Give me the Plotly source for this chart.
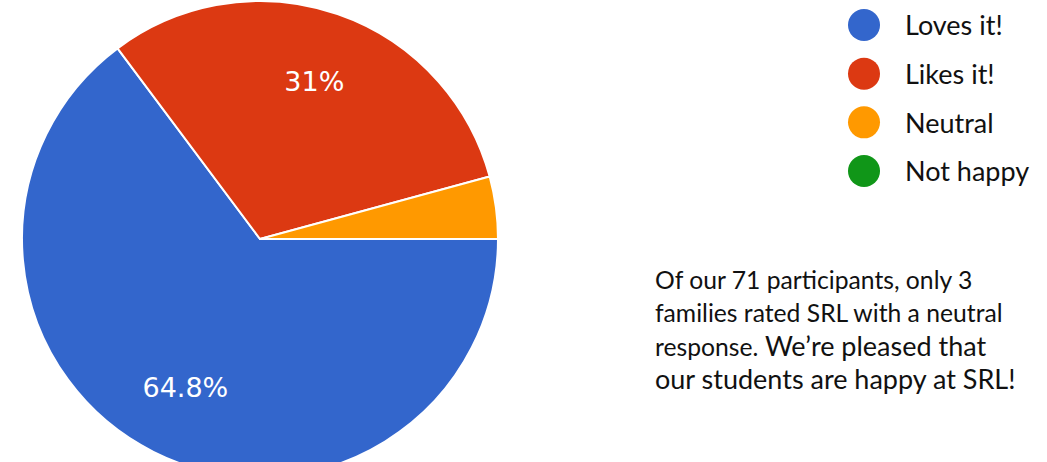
import plotly.graph_objects as go

categories = ["Loves it!", "Likes it!", "Neutral", "Not happy"]
counts = [46, 22, 3, 0]
colors = ["#3366CC", "#DC3912", "#FF9900", "#109618"]
note_lines = [
    ("Of our 71 participants, only 3", None),
    ("families rated SRL with a neutral", None),
    ("response.", " We\u2019re pleased that"),
    (None, "our students are happy at SRL!"),
]

total = sum(counts)
labels_txt = []
for v in counts:
    p = v / total * 100
    labels_txt.append(f"{p:.3g}%" if p >= 10 else "")

W = 1047
HF = 480          # figure height; the page window shows the top 462 px


def py(page_y):
    """page pixel y -> paper coordinate"""
    return 1 - page_y / HF


# pie centre (260, 239), radius 238
PIE_X = [22 / W, 498 / W]
PIE_Y = [py(477), py(1)]

fig = go.Figure()
pie_common = dict(
    labels=categories, values=counts, sort=False, direction="clockwise",
    rotation=90, showlegend=False, domain=dict(x=PIE_X, y=PIE_Y),
)
# full pie (slices)
fig.add_trace(go.Pie(
    textinfo="none", hoverinfo="label+percent",
    marker=dict(colors=colors, line=dict(color="white", width=2)),
    **pie_common,
))
# transparent ring overlay carrying the percentage labels
fig.add_trace(go.Pie(
    hole=0.4, text=labels_txt, textinfo="text", textposition="inside",
    insidetextorientation="horizontal", hoverinfo="skip",
    marker=dict(colors=["rgba(0,0,0,0)"] * len(categories), line=dict(width=0)),
    textfont=dict(family="DejaVu Sans", size=27, color="white"),
    **pie_common,
))

# legend drawn as scatter markers + labels
fig.add_trace(go.Scatter(
    x=[0] * len(categories), y=list(range(len(categories))), mode="markers",
    marker=dict(size=32, color=colors), showlegend=False, hoverinfo="skip",
    cliponaxis=False, xaxis="x", yaxis="y",
))
fig.add_trace(go.Scatter(
    x=[1] * len(categories), y=list(range(len(categories))), mode="text",
    text=categories, textposition="middle right", cliponaxis=False,
    textfont=dict(family="Lato, sans-serif", size=27, color="#111111"),
    showlegend=False, hoverinfo="skip", xaxis="x", yaxis="y2",
))

fig.update_layout(
    width=W, height=HF, margin=dict(l=0, r=0, t=0, b=0),
    paper_bgcolor="white", plot_bgcolor="rgba(0,0,0,0)",
    xaxis=dict(domain=[864 / W, 905 / W], range=[0, 1], visible=False, fixedrange=True),
    yaxis=dict(domain=[py(195.33), py(0.67)], range=[3.5, -0.5], visible=False, fixedrange=True),
    yaxis2=dict(domain=[py(198.83), py(4.17)], range=[3.5, -0.5], visible=False,
                fixedrange=True, anchor="x"),
)

line_y = [279, 312, 345, 378]
for (small, big), yy in zip(note_lines, line_y):
    parts = ""
    if small:
        parts += f"<span style='font-size:24.7px'>{small}</span>"
    if big:
        parts += f"<span style='font-size:27px'>{big}</span>"
    fig.add_annotation(
        x=653 / W, y=py(yy), xref="paper", yref="paper", xanchor="left",
        yanchor="middle", text=parts, showarrow=False, align="left",
        font=dict(family="Lato, sans-serif", size=24.7, color="#111111"),
    )

fig.write_html(
    "out.html",
    config={"displayModeBar": False},
    post_script=(
        "document.body.style.margin='0';"
        "document.body.style.overflow='hidden';"
    ),
)
